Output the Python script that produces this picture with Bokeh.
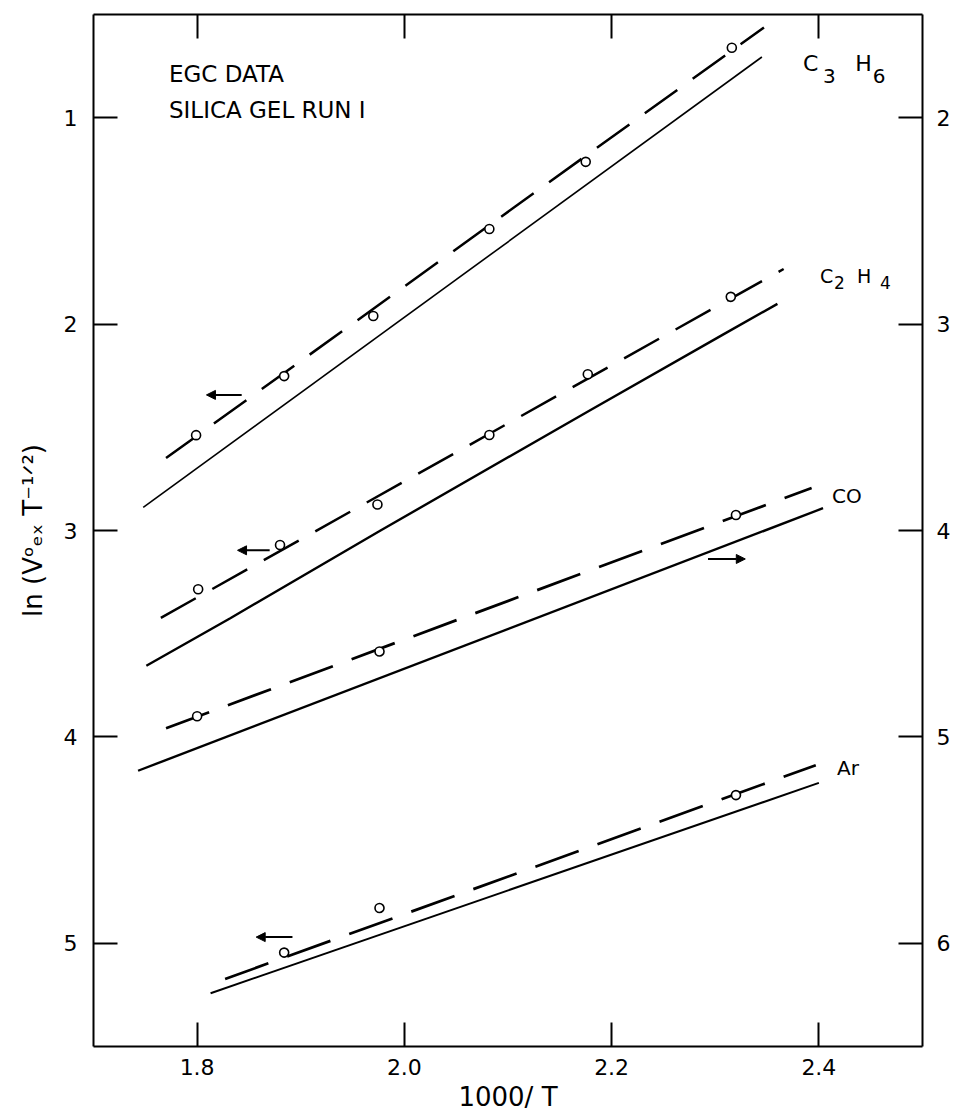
from bokeh.plotting import figure
from bokeh.models import (Range1d, LinearAxis, FixedTicker, PrintfTickFormatter,
                          Label, Arrow, NormalHead)
from bokeh.embed import file_html
from bokeh.resources import INLINE

# ---------------- data ----------------
x_ticks = [1.8, 2.0, 2.2, 2.4]
left_ticks = [1, 2, 3, 4, 5]
right_ticks = [2, 3, 4, 5, 6]

c3h6_x = [1.799, 1.884, 1.970, 2.082, 2.175, 2.316]
c3h6_y = [2.538, 2.252, 1.961, 1.539, 1.214, 0.661]
c3h6_dash_x = [1.770, 2.347]
c3h6_dash_y = [2.649, 0.563]
c3h6_solid_x = [1.748, 2.345]
c3h6_solid_y = [2.888, 0.706]

c2h4_x = [1.801, 1.880, 1.974, 2.082, 2.177, 2.315]
c2h4_y = [3.285, 3.070, 2.874, 2.537, 2.243, 1.868]
c2h4_dash_x = [1.765, 2.366]
c2h4_dash_y = [3.423, 1.733]
c2h4_solid_x = [1.751, 1.832, 1.977, 2.178, 2.307, 2.360]
c2h4_solid_y = [3.655, 3.425, 3.000, 2.421, 2.052, 1.902]

# CO is read on the right-hand axis
co_x = [1.800, 1.976, 2.320]
co_y = [4.900, 4.586, 3.925]
co_dash_x = [1.770, 2.393]
co_dash_y = [4.958, 3.794]
co_solid_x = [1.743, 2.404]
co_solid_y = [5.164, 3.892]

ar_x = [1.884, 1.976, 2.320]
ar_y = [5.045, 4.829, 4.282]
ar_dash_x = [1.827, 2.397]
ar_dash_y = [5.173, 4.137]
ar_solid_x = [1.813, 2.400]
ar_solid_y = [5.242, 4.223]

# axis-indicator arrows: (x_start, x_end, y)
arrow_c3h6 = (1.843, 1.809, 2.343)
arrow_c2h4 = (1.870, 1.839, 3.096)
arrow_co = (2.293, 2.329, 4.138)      # right axis
arrow_ar = (1.892, 1.857, 4.970)

FONT = "DejaVu Sans"

p = figure(width=953, height=1118, output_backend="svg", toolbar_location=None,
           x_range=Range1d(1.7, 2.5), y_range=Range1d(5.5, 0.5),
           min_border_left=93, min_border_right=31, min_border_top=14,
           min_border_bottom=72)
p.extra_y_ranges = {"right": Range1d(6.5, 1.5)}
p.background_fill_color = "white"
p.border_fill_color = "white"
p.outline_line_color = None
p.xgrid.visible = False
p.ygrid.visible = False


def style(ax, size="22px"):
    ax.axis_line_width = 2
    ax.axis_line_color = "black"
    ax.major_tick_in = 24
    ax.major_tick_out = 0
    ax.major_tick_line_width = 2
    ax.major_tick_line_color = "black"
    ax.minor_tick_in = 0
    ax.minor_tick_out = 0
    ax.major_label_text_font = FONT
    ax.major_label_text_font_size = size
    ax.major_label_text_color = "black"


xb = p.xaxis[0]
style(xb)
xb.ticker = FixedTicker(ticks=x_ticks)
xb.formatter = PrintfTickFormatter(format="%.1f")
xb.major_label_standoff = 12
xb.axis_label = "1000/ T"
xb.axis_label_text_font = FONT
xb.axis_label_text_font_size = "26px"
xb.axis_label_text_font_style = "normal"
xb.axis_label_text_color = "black"
xb.axis_label_standoff = 4

yl = p.yaxis[0]
style(yl)
yl.ticker = FixedTicker(ticks=left_ticks)
yl.formatter = PrintfTickFormatter(format="%d")
yl.major_label_standoff = 16
yl.major_label_orientation = "horizontal"
yl.axis_label = "ln (V\u1d52\u2091\u2093 T\u207b\u00b9\u141f\u00b2)"
yl.axis_label_text_font = FONT
yl.axis_label_text_font_size = "26px"
yl.axis_label_text_font_style = "normal"
yl.axis_label_text_color = "black"
yl.axis_label_standoff = 13

yr = LinearAxis(y_range_name="right")
style(yr)
yr.ticker = FixedTicker(ticks=right_ticks)
yr.formatter = PrintfTickFormatter(format="%d")
yr.major_label_standoff = 14
yr.major_label_orientation = "horizontal"
p.add_layout(yr, "right")

xt = LinearAxis()
style(xt, size="0px")
xt.ticker = FixedTicker(ticks=x_ticks)
xt.major_label_overrides = {t: "" for t in x_ticks}
xt.major_label_standoff = 0
p.add_layout(xt, "above")

DASH = "40 19"

# C3H6
p.line(c3h6_solid_x, c3h6_solid_y, line_color="black", line_width=1.6)
p.line(c3h6_dash_x, c3h6_dash_y, line_color="black", line_width=2.5, line_dash=DASH)
p.scatter(c3h6_x, c3h6_y, marker="circle", size=9, fill_color="white",
          line_color="black", line_width=1.6)
# C2H4
p.line(c2h4_solid_x, c2h4_solid_y, line_color="black", line_width=2.4)
p.line(c2h4_dash_x, c2h4_dash_y, line_color="black", line_width=2.5, line_dash=DASH)
p.scatter(c2h4_x, c2h4_y, marker="circle", size=9, fill_color="white",
          line_color="black", line_width=1.6)
# CO (right axis)
p.line(co_solid_x, co_solid_y, line_color="black", line_width=2.4, y_range_name="right")
p.line(co_dash_x, co_dash_y, line_color="black", line_width=2.7, line_dash="46 20",
       y_range_name="right")
p.scatter(co_x, co_y, marker="circle", size=9, fill_color="white",
          line_color="black", line_width=1.6, y_range_name="right")
# Ar
p.line(ar_solid_x, ar_solid_y, line_color="black", line_width=2.0)
p.line(ar_dash_x, ar_dash_y, line_color="black", line_width=2.7, line_dash="46 20")
p.scatter(ar_x, ar_y, marker="circle", size=9, fill_color="white",
          line_color="black", line_width=1.6)

# arrows
for (xs, xe, yy), rng in [(arrow_c3h6, "default"), (arrow_c2h4, "default"),
                          (arrow_co, "right"), (arrow_ar, "default")]:
    p.add_layout(Arrow(x_start=xs, y_start=yy, x_end=xe, y_end=yy, y_range_name=rng,
                       line_width=2, line_color="black",
                       end=NormalHead(size=9, fill_color="black", line_color="black")))


def lab(x, y, text, size):
    p.add_layout(Label(x=x, y=y, text=text, text_font=FONT, text_font_size=size,
                       text_color="black", text_align="left",
                       text_baseline="alphabetic"))


# header text
lab(1.7728, 0.786, "EGC DATA", "23px")
lab(1.7728, 0.965, "SILICA GEL RUN I", "23px")

# species labels
lab(2.3848, 0.737, "C", "22px")
lab(2.4040, 0.796, "3", "20px")
lab(2.4350, 0.737, "H", "22px")
lab(2.4520, 0.796, "6", "20px")

lab(2.4012, 1.769, "C", "19px")
lab(2.4147, 1.798, "2", "17px")
lab(2.4369, 1.769, "H", "19px")
lab(2.4590, 1.798, "4", "17px")

lab(2.4127, 2.835, "CO", "20px")
lab(2.4176, 4.153, "Ar", "20px")

open("out.html", "w").write(file_html(p, INLINE))
